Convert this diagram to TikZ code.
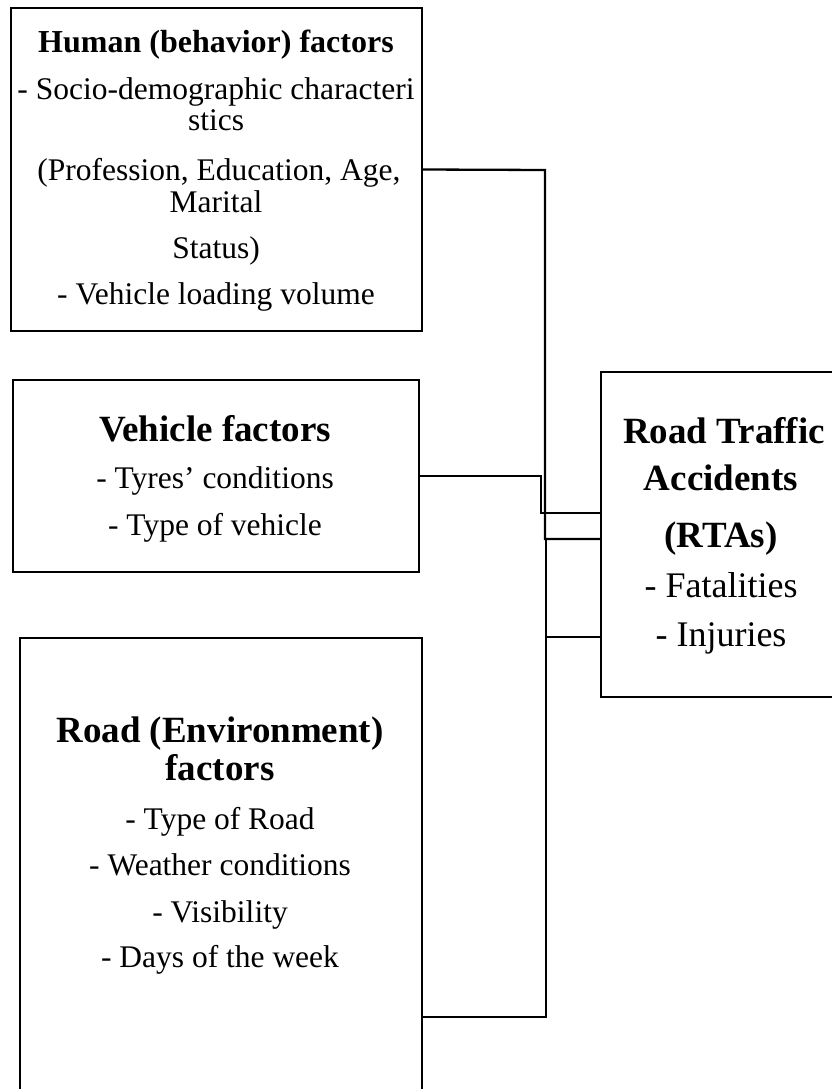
\documentclass[tikz,border=0pt]{standalone}
\usepackage{fontspec}
\setmainfont{Liberation Serif}
\begin{document}
\begin{tikzpicture}[x=1pt,y=-1pt,
  box/.style={draw=black,line width=2.3pt,rectangle,inner sep=0pt,outer sep=0pt,fill=none},
  conn/.style={draw=black,line width=2.3pt},
  txt/.style={anchor=base,inner sep=0pt,outer sep=0pt},
  ftitle/.style={font=\fontsize{32}{38}\selectfont\bfseries},
  fbody/.style={font=\fontsize{31.5}{38}\selectfont},
  fbig/.style={font=\fontsize{37}{44}\selectfont\bfseries},
  frta/.style={font=\fontsize{36}{43}\selectfont}]
\useasboundingbox (0,0) rectangle (832,1089);
\fill[white] (0,0) rectangle (832,1089);
\clip (0,0) rectangle (832,1089);
% boxes
\node[box,minimum width=411pt,minimum height=323pt] (human) at (216.5,169.5) {};
\node[box,minimum width=406pt,minimum height=192pt] (vehicle) at (216,476) {};
\node[box,minimum width=402pt,minimum height=758pt] (road) at (221,1017) {};
\node[box,minimum width=242pt,minimum height=325pt] (rta) at (722,534.5) {};
% human text
\node[txt,ftitle] (h1) at (216,53) {Human (behavior) factors};
\node[txt,fbody] (h2) at (216,100) {- Socio-demographic characteri};
\node[txt,fbody] (h3) at (216,131) {stics};
\node[txt,fbody] (h4) at (219,180) {(Profession, Education, Age,};
\node[txt,fbody] (h5) at (216,212) {Marital};
\node[txt,fbody] (h6) at (216,258) {Status)};
\node[txt,fbody] (h7) at (216,304) {- Vehicle loading volume};
% vehicle text
\node[txt,fbig] (v1) at (215,441) {Vehicle factors};
\node[txt,fbody] (v2) at (215,488) {- Tyres’ conditions};
\node[txt,fbody] (v3) at (215,535) {- Type of vehicle};
% road text
\node[txt,fbig] (r1) at (220,742) {Road (Environment)};
\node[txt,fbig] (r2) at (220,780) {factors};
\node[txt,fbody] (r3) at (220,829) {- Type of Road};
\node[txt,fbody] (r4) at (220,875) {- Weather conditions};
\node[txt,fbody] (r5) at (220,922) {- Visibility};
\node[txt,fbody] (r6) at (220,967) {- Days of the week};
% RTA text
\node[txt,fbig] (a1) at (724,443) {Road Traffic};
\node[txt,fbig] (a2) at (721,490) {Accidents};
\node[txt,fbig] (a3) at (721,547) {(RTAs)};
\node[txt,frta] (a4) at (721,597) {- Fatalities};
\node[txt,frta] (a5) at (721,646) {- Injuries};
% connectors
\coordinate (rtaA) at (rta.west |- 0,513);
\coordinate (rtaB) at (rta.west |- 0,539);
\coordinate (rtaC) at (rta.west |- 0,637);
\coordinate (branch) at (546,637);
\draw[conn] (human.east) -- (545,170) -- (545,539) -- (rtaB);
\draw[conn] (vehicle.east) -- (541,476) -- (541,513) -- (rtaA);
\draw[conn] (road.east) -- (546,1017) -- (546,539) -- (rtaB);
\draw[conn] (branch) -- (rtaC);
\end{tikzpicture}
\end{document}
